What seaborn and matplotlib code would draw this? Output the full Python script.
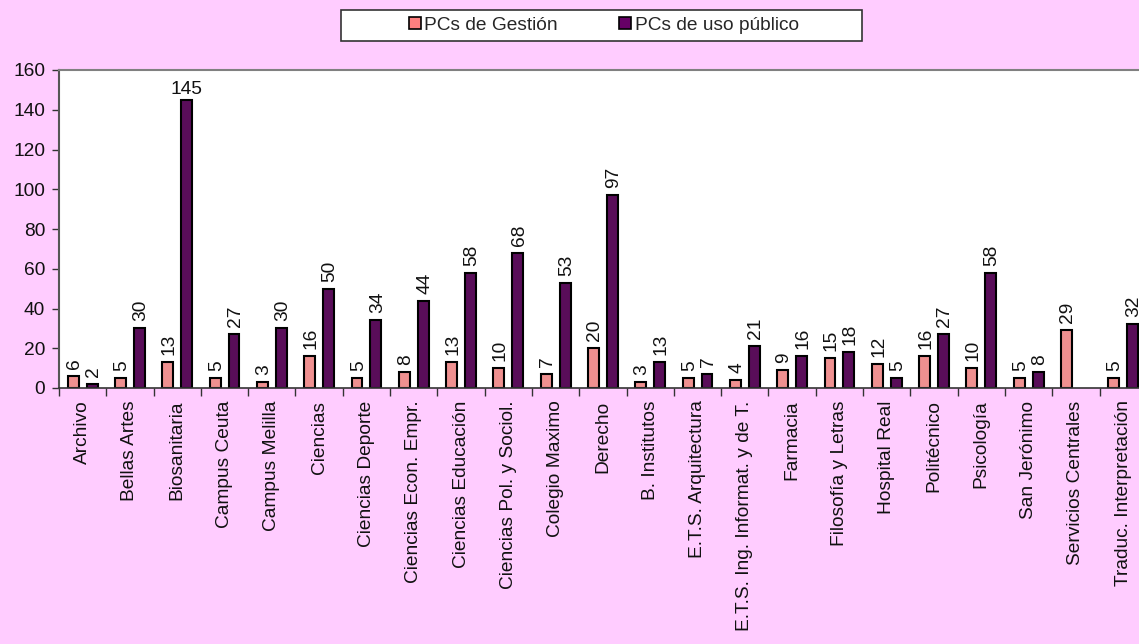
import numpy as np
import pandas as pd
import matplotlib.pyplot as plt
import seaborn as sns
from matplotlib.patches import Patch, Rectangle
from matplotlib.ticker import FixedLocator

# Datos
centros = ['Archivo', 'Bellas Artes', 'Biosanitaria', 'Campus Ceuta', 'Campus Melilla',
           'Ciencias', 'Ciencias Deporte', 'Ciencias Econ. Empr.', 'Ciencias Educación',
           'Ciencias Pol. y Sociol.', 'Colegio Maximo', 'Derecho', 'B. Institutos',
           'E.T.S. Arquitectura', 'E.T.S. Ing. Informat. y de T.', 'Farmacia',
           'Filosofía y Letras', 'Hospital Real', 'Politécnico', 'Psicología',
           'San Jerónimo', 'Servicios Centrales', 'Traduc. Interpretación']
pcs_gestion = [6, 5, 13, 5, 3, 16, 5, 8, 13, 10, 7, 20, 3, 5, 4, 9, 15, 12, 16, 10, 5, 29, 5]
pcs_publico = [2, 30, 145, 27, 30, 50, 34, 44, 58, 68, 53, 97, 13, 7, 21, 16, 18, 5, 27, 58, 8, np.nan, 32]
series = ['PCs de Gestión', 'PCs de uso público']
colores = ['#FF8080', '#660066']

df = pd.DataFrame({'centro': centros * 2,
                   'serie': [series[0]] * len(centros) + [series[1]] * len(centros),
                   'pcs': pcs_gestion + pcs_publico})

sns.set_style('white')
plt.rcParams['font.family'] = ['Liberation Sans', 'DejaVu Sans']
fs = 13.8

fig = plt.figure(figsize=(11.39, 6.44), dpi=100, facecolor='#FFCCFF')
ax = fig.add_axes([59 / 1139, 1 - 388 / 644, 23 * 47.3 / 1139, 318 / 644])
ax.set_facecolor('white')

sns.barplot(data=df, x='centro', y='pcs', hue='serie', order=centros, hue_order=series,
            palette=colores, width=0.8, gap=0.42, edgecolor='black', linewidth=1.5,
            errorbar=None, legend=False, ax=ax)

# Etiquetas de valores
for cont in ax.containers:
    for bar in cont:
        h = bar.get_height()
        if np.isnan(h) or h == 0:
            continue
        x = bar.get_x() + bar.get_width() / 2
        if h > 120:
            ax.annotate(f'{int(h)}', (x, h), xytext=(0, 1), textcoords='offset points',
                        ha='center', va='bottom', fontsize=fs, color='#111111')
        else:
            ax.annotate(f'{int(h)}', (x, h), xytext=(1, 5), textcoords='offset points',
                        ha='center', va='bottom', rotation=90, fontsize=fs, color='#111111')

ax.set_xlim(-0.5, len(centros) - 0.5)
ax.set_ylim(0, 160)
ax.set_yticks(range(0, 161, 20))
ax.set_xlabel('')
ax.set_ylabel('')
ax.set_xticks(range(len(centros)))
ax.set_xticklabels(centros, rotation=90, fontsize=fs, color='#111111')
ax.xaxis.set_minor_locator(FixedLocator(np.arange(-0.5, len(centros), 1)))
ax.tick_params(axis='x', which='major', length=0, pad=9)
ax.tick_params(axis='x', which='minor', length=6, width=1, color='#333333', direction='out', bottom=True)
ax.tick_params(axis='y', length=5, width=1, color='#333333', direction='out', left=True,
               labelsize=fs, labelcolor='#111111', pad=5)

for s in ['top', 'left', 'right']:
    ax.spines[s].set_color('#808080')
    ax.spines[s].set_linewidth(1.5)
ax.spines['left'].set_color('#555555')
ax.spines['bottom'].set_color('#333333')
ax.spines['bottom'].set_linewidth(1.2)

# Leyenda con recuadro
fig.patches.append(Rectangle((341 / 1139, 1 - 41 / 644), 521 / 1139, 31 / 644,
                             transform=fig.transFigure, facecolor='white',
                             edgecolor='#333333', linewidth=1.2, zorder=0))
handles = [Patch(facecolor=c, edgecolor='black', linewidth=1.2) for c in colores]
fig.legend(handles, series, loc='center', bbox_to_anchor=(604 / 1139, 1 - 25.5 / 644),
           ncol=2, frameon=False, fontsize=fs, handlelength=0.6, handleheight=0.6,
           handletextpad=0.2, columnspacing=3.2)

fig.savefig('out.png', dpi=100, facecolor=fig.get_facecolor())
